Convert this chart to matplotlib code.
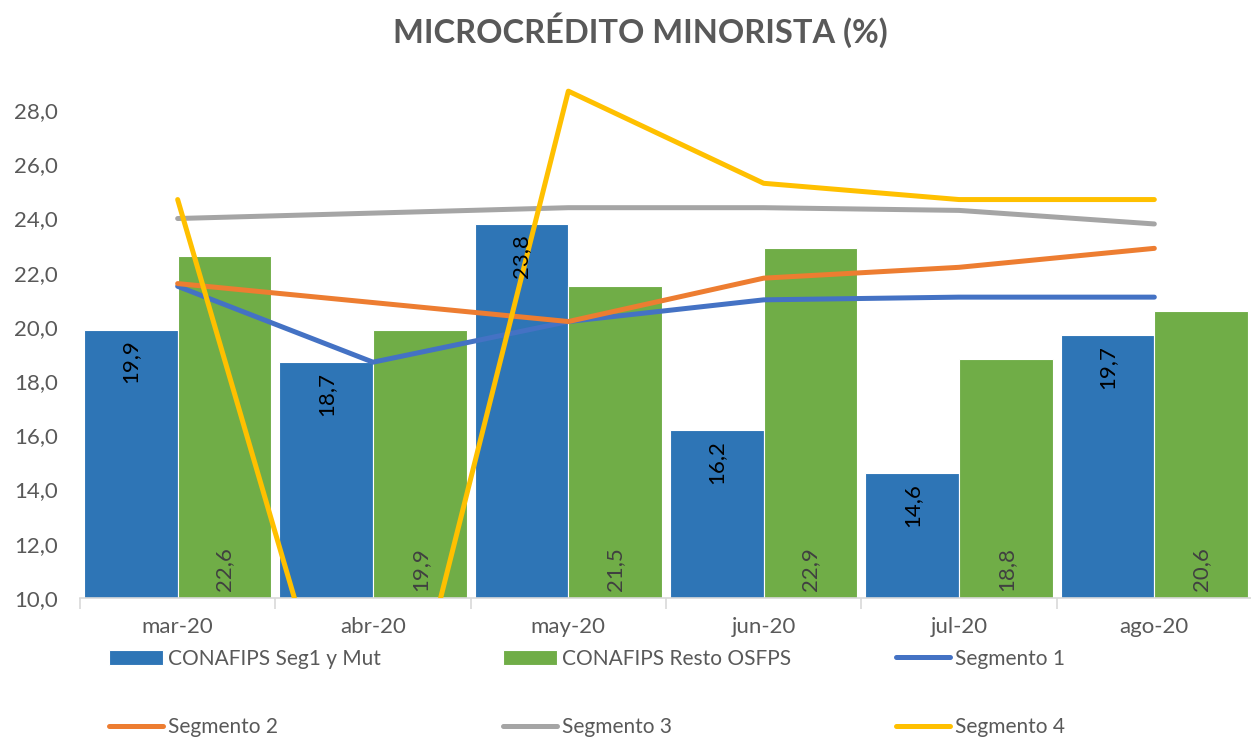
import matplotlib
matplotlib.use("Agg")
import matplotlib.pyplot as plt
import numpy as np

categories = ["mar-20", "abr-20", "may-20", "jun-20", "jul-20", "ago-20"]
conafips_seg1_mut = [19.9, 18.7, 23.8, 16.2, 14.6, 19.7]
conafips_resto = [22.6, 19.9, 21.5, 22.9, 18.8, 20.6]
segmento1 = [21.5, 18.7, 20.2, 21.0, 21.1, 21.1]
segmento2 = [21.6, 20.9, 20.2, 21.8, 22.2, 22.9]
segmento3 = [24.0, 24.2, 24.4, 24.4, 24.3, 23.8]
segmento4 = [24.7, 0.1, 28.7, 25.3, 24.7, 24.7]
yticks = [10, 12, 14, 16, 18, 20, 22, 24, 26, 28]

plt.rcParams['font.family'] = ['Lato', 'DejaVu Sans']
GRAY = "#595959"

fig = plt.figure(figsize=(12.51, 7.37), dpi=100)
ax = fig.add_axes([80/1251, 139/737, 1172/1251, 515/737])

x = np.arange(len(categories))
w = 0.48
b1 = ax.bar(x - w/2, conafips_seg1_mut, width=w, bottom=0, color="#2E75B6",
            edgecolor="white", linewidth=0.8, zorder=2, label="CONAFIPS Seg1 y Mut")
b2 = ax.bar(x + w/2, conafips_resto, width=w, bottom=0, color="#70AD47",
            edgecolor="white", linewidth=0.8, zorder=2, label="CONAFIPS Resto OSFPS")

lw = 3.6
l1, = ax.plot(x, segmento1, color="#4472C4", lw=lw, zorder=3, solid_capstyle="round", label="Segmento 1")
l2, = ax.plot(x, segmento2, color="#ED7D31", lw=lw, zorder=3, solid_capstyle="round", label="Segmento 2")
l3, = ax.plot(x, segmento3, color="#A5A5A5", lw=lw, zorder=3, solid_capstyle="round", label="Segmento 3")
l4, = ax.plot(x, segmento4, color="#FFC000", lw=lw, zorder=3, solid_capstyle="round", label="Segmento 4")

def fmt(v):
    return f"{v:.1f}".replace(".", ",")

for xi, v in zip(x - w/2, conafips_seg1_mut):
    ax.annotate(fmt(v), (xi, v), xytext=(0, -7), textcoords="offset points",
                rotation=90, ha="center", va="top", fontsize=16, color="black", zorder=5)
for xi, v in zip(x + w/2, conafips_resto):
    ax.annotate(fmt(v), (xi, 10), xytext=(0, 5), textcoords="offset points",
                rotation=90, ha="center", va="bottom", fontsize=16, color="#404040", zorder=5)

ax.set_ylim(10, 29)
ax.set_xlim(-0.5, len(categories) - 0.5)
ax.set_yticks(yticks)
ax.set_yticklabels([fmt(t) for t in yticks])
ax.set_xticks(x)
ax.set_xticklabels(categories)
ax.set_xticks(np.arange(-0.5, len(categories)), minor=True)
ax.tick_params(axis="x", which="major", length=0, pad=14, labelsize=16, labelcolor=GRAY)
ax.tick_params(axis="x", which="minor", length=8, width=1.2, color="#D9D9D9")
ax.tick_params(axis="y", length=0, pad=16, labelsize=16, labelcolor=GRAY)
for s in ["top", "right", "left"]:
    ax.spines[s].set_visible(False)
ax.spines["bottom"].set_color("#D9D9D9")
ax.spines["bottom"].set_linewidth(1.2)

fig.text(640/1251, 1 - 30/737, "MICROCRÉDITO MINORISTA (%)", ha="center", va="center",
         fontsize=23.5, fontweight="bold", color=GRAY)

cols = [([b1, l2], 109), ([b2, l3], 503), ([l1, l4], 896)]
for handles, px in cols:
    fig.legend(handles=handles, labels=[h.get_label() for h in handles],
               loc="center left", bbox_to_anchor=(px/1251, 1 - 693/737),
               frameon=False, fontsize=15, labelcolor=GRAY, handlelength=2.6,
               handletextpad=0.25, labelspacing=2.35, borderpad=0, borderaxespad=0)

fig.savefig("out.png", dpi=100)
